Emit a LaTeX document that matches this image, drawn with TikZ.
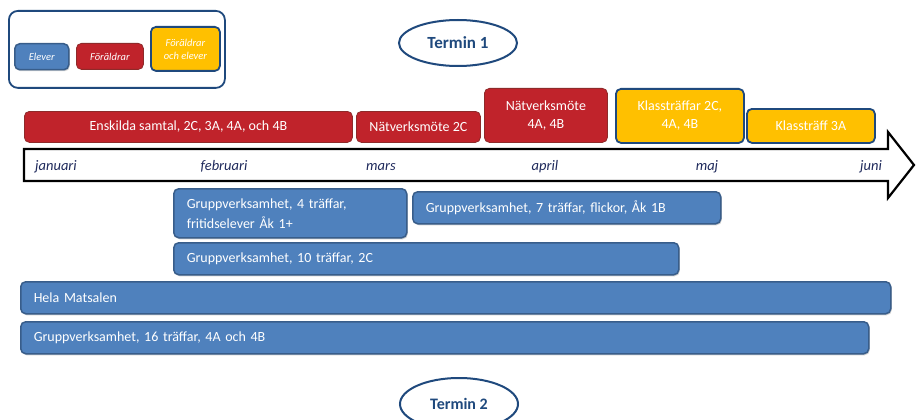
\documentclass[tikz,border=0pt]{standalone}
\usepackage{fontspec}
\setmainfont{Carlito}
\usetikzlibrary{shapes.geometric,shadows}
\definecolor{eblue}{HTML}{4F81BD}
\definecolor{eblueD}{HTML}{385D8A}
\definecolor{fred}{HTML}{C0232B}
\definecolor{fredD}{HTML}{8E2A2A}
\definecolor{fyel}{HTML}{FFC000}
\definecolor{navy}{HTML}{1F497D}
\definecolor{monthc}{HTML}{1F2A5C}
\begin{document}
\begin{tikzpicture}[x=1pt,y=-1pt,
  base/.style={rounded corners=5pt, inner sep=0pt, anchor=north west, text=white, font=\fontsize{14}{18}\selectfont},
  evbox/.style={base, draw=eblueD, fill=eblue, line width=1.5pt, drop shadow={shadow xshift=1pt, shadow yshift=-1.5pt, fill=black, opacity=0.18}},
  frbox/.style={base, draw=fredD, fill=fred, line width=0.8pt},
  bothbox/.style={base, draw=navy, fill=fyel, line width=1.8pt},
  leftbox/.style={align=left, inner xsep=13pt, text width=#1-26pt, minimum width=#1},
  ctr/.style={align=center, minimum width=#1},
  legtxt/.style={font=\fontsize{10.5}{13}\selectfont\itshape},
  term/.style={ellipse, draw=navy, line width=2pt, text=navy, inner sep=0pt},
  monthlbl/.style={anchor=base, text=monthc, font=\fontsize{14.5}{17}\selectfont\itshape}]
\clip (0,0) rectangle (916,420);
\fill[white] (0,0) rectangle (916,420);
% legend
\node[draw=navy, line width=1.8pt, rounded corners=9pt, anchor=north west, minimum width=216pt, minimum height=77pt, inner sep=0pt] (legend) at (8,10) {};
\node[evbox, legtxt, ctr=54pt, minimum height=26pt] (lelev) at (14,43) {Elever};
\node[frbox, legtxt, ctr=67pt, minimum height=26pt] (lfor) at (76,43) {Föräldrar};
\node[bothbox, legtxt, ctr=69pt, minimum height=44pt] (lboth) at (150,26) {Föräldrar\\och elever};
% terms
\node[term, minimum width=118pt, minimum height=46pt, font=\fontsize{17}{20}\selectfont\bfseries] (t1) at (458,43) {Termin 1};
\node[term, minimum width=118pt, minimum height=52pt, font=\fontsize{16}{19}\selectfont\bfseries] (t2) at (459,404) {Termin 2};
% timeline arrow
\draw[line width=2.2pt, fill=white, line join=miter] (24,149) -- (888,149) -- (888,132) -- (914,165) -- (888,198) -- (888,181) -- (24,181) -- cycle;
\node[monthlbl] (jan) at (56,170) {januari};
\node[monthlbl] (feb) at (224,170) {februari};
\node[monthlbl] (mar) at (381,170) {mars};
\node[monthlbl] (apr) at (545,170) {april};
\node[monthlbl] (maj) at (707,170) {maj};
\node[monthlbl] (jun) at (871,170) {juni};
% top events
\node[frbox, ctr=328pt, minimum height=31pt] (ensk) at (24,111) {Enskilda samtal, 2C, 3A, 4A, och 4B};
\node[frbox, ctr=124pt, minimum height=31pt] (nat2c) at (356,111) {Nätverksmöte 2C};
\node[frbox, ctr=123pt, minimum height=54pt] (nat4) at (484,88) {Nätverksmöte\\4A, 4B};
\node[bothbox, ctr=128pt, minimum height=54pt] (klass) at (615,88) {Klassträffar 2C,\\4A, 4B};
\node[bothbox, ctr=128pt, minimum height=34pt] (klass3) at (746,108) {Klassträff 3A};
% bottom events
\node[evbox, leftbox=233pt, minimum height=49pt, font=\fontsize{14}{20}\selectfont] (g4) at (173,188) {Gruppverksamhet, 4 träffar,\\fritidselever Åk 1+};
\node[evbox, leftbox=308pt, minimum height=32pt] (g7) at (412,191) {Gruppverksamhet, 7 träffar, flickor, Åk 1B};
\node[evbox, leftbox=505pt, minimum height=32pt] (g10) at (173,242) {Gruppverksamhet, 10 träffar, 2C};
\node[evbox, leftbox=870pt, minimum height=32pt] (hela) at (20,281) {Hela Matsalen};
\node[evbox, leftbox=848pt, minimum height=32pt] (g16) at (20,321) {Gruppverksamhet, 16 träffar, 4A och 4B};
\end{tikzpicture}
\end{document}
